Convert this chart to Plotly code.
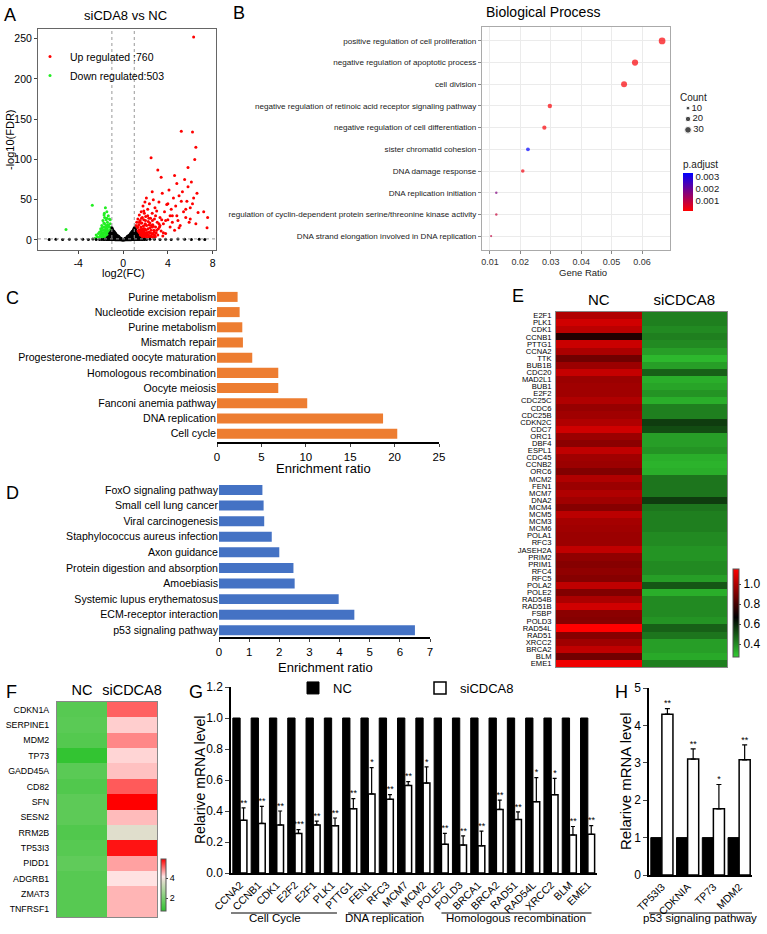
import plotly.graph_objects as go

W, H = 767, 934
FONT = "Liberation Sans, Arial, Helvetica, sans-serif"

# ---------------- data ----------------
# A: volcano plot
up_label = "Up regulated :760"
down_label = "Down regulated:503"
up_x = [1.02,1.05,1.08,1.1,1.12,1.15,1.18,1.2,1.22,1.25,1.28,1.3,1.32,1.35,1.38,1.4,1.42,1.45,1.48,1.5,
        1.52,1.55,1.58,1.6,1.62,1.65,1.68,1.7,1.72,1.75,1.78,1.8,1.82,1.85,1.88,1.9,1.92,1.95,1.98,2.0,
        2.02,2.05,2.08,2.1,2.15,2.2,2.25,2.3,2.35,2.4,2.45,2.5,2.55,2.6,2.65,2.7,2.75,2.8,2.85,2.9,
        2.95,3.0,3.05,3.1,3.15,3.2,3.3,3.4,3.5,3.6,3.7,3.8,3.9,4.0,4.1,4.2,4.3,4.4,4.5,4.6,
        4.7,4.8,4.9,5.0,5.1,5.2,5.3,5.4,5.5,5.6,5.7,5.8,5.9,6.0,6.1,6.2,6.3,6.4,6.5,6.6,
        1.1,1.2,1.3,1.4,1.5,1.6,1.7,1.8,1.9,2.0,2.1,2.2,2.3,2.4,2.5,2.6,2.7,2.8,3.0,3.2,
        1.15,1.25,1.35,1.45,1.55,1.65,1.75,1.85,1.95,2.05,2.3,2.6,2.9,3.3,3.6,4.0,4.4,4.8,5.2,5.6,
        6.0,6.3,6.5,6.7,2.6,3.4,4.2,5.0,5.8,6.2,7.2,7.5,7.55,3.8,4.6,
        1.03,1.07,1.13,1.17,1.23,1.27,1.33,1.37,1.43,1.47,1.53,1.57,1.63,1.67,1.73,1.77,1.83,1.87,1.93,1.97,
        2.12,2.18,2.22,2.28,2.32,2.38,2.42,2.48,2.52,2.58,2.62,2.68,2.72,2.78,2.82,2.88,3.1,3.25,3.45,3.55]
up_y = [4,9,2,14,6,18,3,11,22,7,15,5,26,10,3,19,8,31,12,6,
        24,9,16,4,35,13,21,7,28,11,42,17,5,25,9,33,14,47,20,8,
        29,12,52,18,6,38,23,10,45,15,27,102,8,33,19,50,12,26,40,16,
        9,36,22,87,14,47,28,11,58,20,35,8,44,25,62,16,38,30,52,12,
        42,70,24,55,18,135,60,35,75,28,48,66,22,40,72,134,252,100,115,58,
        8,3,16,12,2,21,5,14,3,24,9,30,4,21,12,7,17,5,12,20,
        12,6,4,22,13,27,10,36,19,5,27,16,30,18,9,45,22,30,48,38,
        26,52,20,34,60,78,30,15,90,45,35,15,28,24,80,
        6,11,3,9,5,16,7,2,10,4,7,3,10,2,4,6,3,11,6,13,
        3,9,14,6,19,3,9,5,18,4,24,8,3,10,6,4,6,16,25,5]
down_x = [-1.02,-1.05,-1.08,-1.1,-1.12,-1.15,-1.18,-1.2,-1.22,-1.25,-1.28,-1.3,-1.32,-1.35,-1.38,-1.4,-1.42,-1.45,-1.48,-1.5,
          -1.52,-1.55,-1.58,-1.6,-1.62,-1.65,-1.68,-1.7,-1.72,-1.75,-1.78,-1.8,-1.82,-1.85,-1.88,-1.9,-1.92,-1.95,-1.98,-2.0,
          -2.05,-2.1,-2.15,-2.2,-2.3,-2.4,-2.5,-2.75,-5.1,-1.1,-1.2,-1.3,-1.4,-1.5,-1.6,-1.7,-1.8,-1.9,-1.15,-1.25,
          -1.35,-1.45,-1.55,-1.65,-1.75,-1.85,-1.03,-1.07,-1.13,-1.17,-1.23,-1.27,-1.33,-1.37,-1.43,-1.47,-1.53,-1.57,-1.63,-1.67]
down_y = [5,10,3,15,7,20,4,12,26,8,17,3,30,11,6,22,14,35,9,18,
          25,7,40,13,4,28,16,9,21,3,12,24,6,15,9,18,4,11,7,14,
          5,10,3,8,4,6,2,43,13,2,6,9,4,13,2,31,5,2,25,16,
          19,27,10,20,8,3,8,2,12,5,3,10,6,17,2,8,15,5,10,33]
ns_x = [-1.0,-1.0,-1.0,-1.0,-1.0,-1.0,
        -0.95,-0.95,-0.95,-0.95,-0.95,
        -0.9,-0.9,-0.9,-0.9,-0.9,
        -0.85,-0.85,-0.85,-0.85,
        -0.8,-0.8,-0.8,-0.8,-0.8,
        -0.75,-0.75,-0.75,-0.75,
        -0.7,-0.7,-0.7,-0.7,-0.7,
        -0.65,-0.65,-0.65,-0.65,
        -0.6,-0.6,-0.6,-0.6,
        -0.55,-0.55,-0.55,
        -0.5,-0.5,-0.5,-0.5,
        -0.45,-0.45,-0.45,
        -0.4,-0.4,-0.4,-0.4,
        -0.35,-0.35,-0.35,
        -0.3,-0.3,-0.3,
        -0.25,-0.25,
        -0.2,-0.2,-0.2,
        -0.15,-0.15,
        -0.1,-0.1,-0.1,
        -0.05,-0.05,
        0.0,0.0,
        0.05,0.05,
        0.1,0.1,0.1,
        0.15,0.15,
        0.2,0.2,0.2,
        0.25,0.25,
        0.3,0.3,0.3,
        0.35,0.35,0.35,
        0.4,0.4,0.4,0.4,
        0.45,0.45,0.45,
        0.5,0.5,0.5,0.5,
        0.55,0.55,0.55,
        0.6,0.6,0.6,0.6,
        0.65,0.65,0.65,0.65,
        0.7,0.7,0.7,0.7,0.7,
        0.75,0.75,0.75,0.75,
        0.8,0.8,0.8,0.8,0.8,
        0.85,0.85,0.85,0.85,
        0.9,0.9,0.9,0.9,0.9,
        0.95,0.95,0.95,0.95,0.95,
        1.0,1.0,1.0,1.0,1.0,1.0,
        -1.1,-1.1,-1.1,-1.1,
        -1.2,-1.2,-1.2,-1.2,
        -1.3,-1.3,-1.3,
        -1.4,-1.4,-1.4,
        -1.5,-1.5,
        -1.7,-1.7,
        -1.9,-2.1,
        1.1,1.1,1.1,1.1,1.1,
        1.2,1.2,1.2,1.2,
        1.3,1.3,1.3,1.3,
        1.4,1.4,1.4,
        1.5,1.5,1.5,
        1.7,1.7,
        1.9,1.9,
        2.1,
        -6.6,-6.0,-5.4,-4.8,-4.2,-3.6,-3.1,-2.7,-2.4,
        2.4,2.8,3.3,3.8,4.3,4.9,5.5,6.1,6.8,7.3]
ns_y = [0.5,3,6,9,12,15,
        1.5,4.5,7.5,10.5,13.5,
        0.5,3,6,9,12,
        1.5,4.5,7.5,10.5,
        0.4,2.5,5,8,10.5,
        1.5,4,6.5,9,
        0.3,2,4.5,7,8.5,
        1,3,5.5,7.5,
        0.3,2,4,6.5,
        1,3,5,
        0.2,1.5,3.5,5.5,
        0.8,2.5,4,
        0.2,1.5,3,4.5,
        0.6,2,3.5,
        0.1,1,2.5,
        0.5,1.8,
        0.1,1,2,
        0.4,1.2,
        0,0.6,1.2,
        0.2,0.6,
        0,0.4,
        0.2,0.6,
        0,0.6,1.2,
        0.4,1.2,
        0.1,1,2,
        0.5,1.8,
        0.1,1,2.5,
        0.6,2,3.5,
        0.2,1.5,3,4.5,
        0.8,2.5,4,
        0.2,1.5,3.5,5.5,
        1,3,5,
        0.3,2,4,6.5,
        1,3,5.5,7.5,
        0.3,2,4.5,7,8.5,
        1.5,4,6.5,9,
        0.4,2.5,5,8,10.5,
        1.5,4.5,7.5,10.5,
        0.5,3,6,9,12,
        1.5,4.5,7.5,10.5,13.5,
        0.5,3,6,9,12,15,
        0.5,3,6,10,
        0.5,2.5,5,8,
        0.5,2,4,
        0.5,1.5,3,
        0.5,1.2,
        0.5,1,
        0.4,0.4,
        0.5,3,6,10,13,
        0.5,2.5,5,8,
        0.5,2,4,6,
        0.5,1.5,3,
        0.5,1.2,2.5,
        0.5,1,
        0.4,1,
        0.4,
        0.6,0.9,0.5,1.0,0.7,0.8,0.5,1.1,0.6,
        0.7,1.0,0.5,0.9,0.6,1.1,0.7,0.5,0.8,0.6]
fc_cut = 1.0
fdr_cut = 1.3

# B: GO biological process dot plot
bp_terms = ["positive regulation of cell proliferation",
            "negative regulation of apoptotic process",
            "cell division",
            "negative regulation of retinoic acid receptor signaling pathway",
            "negative regulation of cell differentiation",
            "sister chromatid cohesion",
            "DNA damage response",
            "DNA replication initiation",
            "regulation of cyclin-dependent protein serine/threonine kinase activity",
            "DNA strand elongation involved in DNA replication"]
bp_ratio = [0.0666, 0.0577, 0.0541, 0.0297, 0.0279, 0.0225, 0.0208, 0.0121, 0.0121, 0.0104]
bp_count = [30, 26, 24, 13, 12, 10, 9, 4, 4, 3]
bp_padj = [0.0002, 0.0002, 0.0002, 0.0002, 0.0002, 0.0033, 0.0003, 0.0017, 0.0008, 0.0009]
count_legend = [10, 20, 30]

# C: KEGG (up)
kegg_up_terms = ["Purine metabolism", "Nucleotide excision repair", "Purine metabolism",
                 "Mismatch repair", "Progesterone-mediated oocyte maturation",
                 "Homologous recombination", "Oocyte meiosis", "Fanconi anemia pathway",
                 "DNA replication", "Cell cycle"]
kegg_up_ratio = [2.32, 2.55, 2.85, 2.92, 3.97, 6.9, 6.9, 10.16, 18.7, 20.3]

# D: KEGG (down)
kegg_down_terms = ["FoxO signaling pathway", "Small cell lung cancer", "Viral carcinogenesis",
                   "Staphylococcus aureus infection", "Axon guidance",
                   "Protein digestion and absorption", "Amoebiasis",
                   "Systemic lupus erythematosus", "ECM-receptor interaction",
                   "p53 signaling pathway"]
kegg_down_ratio = [1.44, 1.48, 1.5, 1.75, 2.0, 2.47, 2.51, 3.97, 4.49, 6.5]

# E: heatmap
e_cols = ["NC", "siCDCA8"]
e_genes = ["E2F1","PLK1","CDK1","CCNB1","PTTG1","CCNA2","TTK","BUB1B","CDC20","MAD2L1",
           "BUB1","E2F2","CDC25C","CDC6","CDC25B","CDKN2C","CDC7","ORC1","DBF4","ESPL1",
           "CDC45","CCNB2","ORC6","MCM2","FEN1","MCM7","DNA2","MCM4","MCM5","MCM3",
           "MCM6","POLA1","RFC3","JASEH2A","PRIM2","PRIM1","RFC4","RFC5","POLA2","POLE2",
           "RAD54B","RAD51B","FSBP","POLD3","RAD54L","RAD51","XRCC2","BRCA2","BLM","EME1"]
e_nc = [1.0,1.06,1.02,0.73,1.05,0.99,0.88,0.96,1.04,0.96,
        0.97,0.97,1.0,0.95,0.97,1.0,1.06,0.96,0.93,1.03,
        0.97,0.96,0.91,1.0,0.96,1.0,0.97,0.92,1.02,0.98,
        0.97,0.96,0.96,1.03,0.94,0.92,0.94,0.92,1.03,0.91,
        0.99,1.06,0.93,0.92,1.15,0.92,0.97,1.03,0.88,1.12]
e_si = [0.42,0.42,0.40,0.42,0.40,0.36,0.31,0.36,0.48,0.33,
        0.35,0.38,0.33,0.42,0.42,0.55,0.52,0.36,0.36,0.38,
        0.33,0.32,0.33,0.44,0.44,0.44,0.55,0.44,0.42,0.42,
        0.42,0.40,0.40,0.38,0.38,0.40,0.40,0.36,0.50,0.33,
        0.40,0.40,0.40,0.38,0.48,0.44,0.36,0.36,0.34,0.42]

# F: p53 pathway heatmap
f_cols = ["NC", "siCDCA8"]
f_genes = ["CDKN1A","SERPINE1","MDM2","TP73","GADD45A","CD82","SFN","SESN2","RRM2B",
           "TP53I3","PIDD1","ADGRB1","ZMAT3","TNFRSF1"]
f_nc = [1.4, 1.45, 1.35, 0.8, 1.45, 1.3, 1.5, 1.5, 1.3, 1.4, 1.55, 1.4, 1.4, 1.4]
f_si = [5.15, 4.3, 4.85, 4.25, 4.4, 5.2, 5.9, 4.45, 3.7, 5.75, 4.65, 4.15, 4.5, 4.5]

# G: qPCR
g_genes = ["CCNA2","CCNB1","CDK1","E2F2","E2F1","PLK1","PTTG1","FEN1","RFC3","MCM7",
           "MCM2","POLE2","POLD3","BRCA1","BRCA2","RAD51","RAD54L","XRCC2","BLM","EME1"]
g_nc = [1.0,1.0,1.0,1.0,1.0,1.0,1.0,1.0,1.0,1.0,1.0,1.0,1.0,1.0,1.0,1.0,1.0,1.0,1.0,1.0]
g_si = [0.34,0.32,0.31,0.255,0.31,0.305,0.415,0.51,0.475,0.565,
        0.58,0.185,0.18,0.175,0.41,0.345,0.46,0.505,0.245,0.25]
g_err = [0.08,0.11,0.09,0.025,0.025,0.05,0.065,0.17,0.03,0.025,
         0.105,0.07,0.06,0.095,0.06,0.05,0.155,0.105,0.055,0.055]
g_sig = ["**","**","**","***","**","**","**","*","**","**",
         "*","**","**","**","**","**","*","*","**","**"]
g_groups = ["Cell Cycle", "DNA replication", "Homologous recombination"]

# H: qPCR p53 pathway
h_genes = ["TP53I3", "CDKNIA", "TP73", "MDM2"]
h_nc = [1.0, 1.0, 1.0, 1.0]
h_si = [4.3, 3.1, 1.77, 3.08]
h_err = [0.15, 0.27, 0.65, 0.4]
h_sig = ["**", "**", "*", "**"]
h_group = "p53 signaling pathway"

# ---------------- layout helpers (pixel -> paper) ----------------
def xd(l, r):
    return [l / W, r / W]

def yd(t, b):
    return [1 - b / H, 1 - t / H]

def px(x):
    return x / W

def py(y):
    return 1 - y / H

annotations = []
shapes = []

def note(text, x, y, size, angle=0, color="black", xanchor="center", yanchor="middle"):
    annotations.append(dict(text=text, x=px(x), y=py(y), xref="paper", yref="paper",
                            showarrow=False, textangle=angle, xanchor=xanchor, yanchor=yanchor,
                            font=dict(size=size, family=FONT, color=color)))

fig = go.Figure()

# ---------------- A ----------------
fig.add_trace(go.Scatter(x=up_x, y=up_y, mode="markers", name=up_label,
                         marker=dict(color="#FF0000", size=3), xaxis="x", yaxis="y", legend="legend"))
fig.add_trace(go.Scatter(x=down_x, y=down_y, mode="markers", name=down_label,
                         marker=dict(color="#22EE22", size=3), xaxis="x", yaxis="y", legend="legend"))
fig.add_trace(go.Scatter(x=ns_x, y=ns_y, mode="markers", showlegend=False,
                         marker=dict(color="black", size=3), xaxis="x", yaxis="y"))
for xv in (-fc_cut, fc_cut):
    shapes.append(dict(type="line", xref="x", yref="y domain", x0=xv, x1=xv, y0=0, y1=1,
                       line=dict(color="#999999", width=1, dash="dot")))
shapes.append(dict(type="line", xref="x domain", yref="y", x0=0, x1=1, y0=fdr_cut, y1=fdr_cut,
                   line=dict(color="#999999", width=1, dash="dot")))
note("siCDA8 vs NC", 125, 15, 13)
note("-log10(FDR)", 10, 140, 11, angle=-90)
note("log2(FC)", 123, 273, 11)

# ---------------- B ----------------
nb = len(bp_terms)
bp_pos = [nb - 1 - i for i in range(nb)]
SIZEREF = 1.34
fig.add_trace(go.Scatter(
    x=bp_ratio, y=bp_pos, mode="markers", showlegend=False, xaxis="x2", yaxis="y2",
    marker=dict(size=bp_count, sizemode="area", sizeref=SIZEREF, color=bp_padj,
                colorscale=[[0, "#FF0000"], [1, "#0000FF"]], cmin=0.00012, cmax=0.0033,
                line=dict(width=0),
                colorbar=dict(x=px(683), xanchor="left", y=py(211), yanchor="bottom",
                              len=54, lenmode="pixels", thickness=10, thicknessmode="pixels",
                              outlinewidth=0, tickvals=[0.001, 0.002, 0.003],
                              ticktext=["0.001", "0.002", "0.003"], ticks="", xpad=0, ypad=0,
                              tickfont=dict(size=9.5, family=FONT, color="#222"),
                              title=dict(text="p.adjust", side="top",
                                         font=dict(size=10, family=FONT, color="#222"))))))
# size legend
fig.add_trace(go.Scatter(
    x=[0.2, 0.2, 0.2], y=[0.82 - 0.32 * i for i in range(3)], mode="markers+text",
    text=[str(c) for c in count_legend], textposition="middle right",
    textfont=dict(size=9.5, family=FONT, color="#222"), showlegend=False, xaxis="x3", yaxis="y3",
    marker=dict(size=count_legend, sizemode="area", sizeref=SIZEREF, color="black")))
note("Count", 693, 97, 10, color="#222")
note("Biological Process", 543, 12, 14)
note("Gene Ratio", 583, 272, 9.5, color="#222")

# ---------------- C ----------------
nc_ = len(kegg_up_terms)
c_pos = [nc_ - 1 - i for i in range(nc_)]
fig.add_trace(go.Bar(x=kegg_up_ratio, y=c_pos, orientation="h", width=0.66,
                     marker=dict(color="#ED7D31", line=dict(width=0)), showlegend=False,
                     xaxis="x4", yaxis="y4"))
note("Enrichment ratio", 323, 468, 13)

# ---------------- D ----------------
nd = len(kegg_down_terms)
d_pos = [nd - 1 - i for i in range(nd)]
fig.add_trace(go.Bar(x=kegg_down_ratio, y=d_pos, orientation="h", width=0.64,
                     marker=dict(color="#4472C4", line=dict(width=0)), showlegend=False,
                     xaxis="x5", yaxis="y5"))
note("Enrichment ratio", 325, 667, 13)

# ---------------- E ----------------
fig.add_trace(go.Heatmap(
    z=[[a, b] for a, b in zip(e_nc, e_si)], x=e_cols, y=e_genes, xaxis="x6", yaxis="y6",
    zmin=0.27, zmax=1.15,
    colorscale=[[0, "rgb(50,205,50)"], [0.45, "rgb(0,0,0)"], [1, "rgb(255,0,0)"]],
    colorbar=dict(x=px(733), xanchor="left", y=py(657), yanchor="bottom", len=88,
                  lenmode="pixels", thickness=6, thicknessmode="pixels", outlinewidth=1,
                  outlinecolor="#555", tickvals=[0.4, 0.6, 0.8, 1.0],
                  ticktext=["0.4", "0.6", "0.8", "1.0"], ticks="outside", ticklen=2,
                  xpad=0, ypad=0, tickfont=dict(size=12, family=FONT))))

# ---------------- F ----------------
fig.add_trace(go.Heatmap(
    z=[[a, b] for a, b in zip(f_nc, f_si)], x=f_cols, y=f_genes, xaxis="x7", yaxis="y7",
    zmin=0.7, zmax=5.9,
    colorscale=[[0, "rgb(45,195,45)"], [0.58, "rgb(225,222,205)"], [0.66, "rgb(255,228,228)"],
                [1, "rgb(255,0,0)"]],
    colorbar=dict(x=px(161), xanchor="left", y=py(911), yanchor="bottom", len=52,
                  lenmode="pixels", thickness=5, thicknessmode="pixels", outlinewidth=1,
                  outlinecolor="#555", tickvals=[2, 4], ticktext=["2", "4"], ticks="outside",
                  ticklen=2, xpad=0, ypad=0, tickfont=dict(size=9, family=FONT))))

# ---------------- G ----------------
g_idx = list(range(len(g_genes)))
fig.add_trace(go.Bar(x=g_idx, y=g_nc, name="NC", offset=-0.4, width=0.4,
                     marker=dict(color="black", line=dict(color="black", width=1)),
                     xaxis="x8", yaxis="y8", legend="legend2"))
fig.add_trace(go.Bar(x=g_idx, y=g_si, name="siCDCA8", offset=0.0, width=0.37,
                     marker=dict(color="white", line=dict(color="black", width=1.5)),
                     error_y=dict(type="data", symmetric=False, array=g_err,
                                  arrayminus=[0 for _ in g_err], color="black",
                                  thickness=1.2, width=2),
                     xaxis="x8", yaxis="y8", legend="legend3"))
fig.add_trace(go.Scatter(x=[i + 0.2 for i in g_idx], y=[s + e for s, e in zip(g_si, g_err)],
                         mode="text", text=g_sig, textposition="top center",
                         textfont=dict(size=9, family=FONT, color="black"),
                         showlegend=False, xaxis="x8", yaxis="y8"))
g_spans = [(-1.48, 5.29), (5.9, 9.9), (11.0, 19.2)]
for name, (a, b) in zip(g_groups, g_spans):
    shapes.append(dict(type="line", xref="x8", yref="paper", x0=a, x1=b, y0=py(913), y1=py(913),
                       line=dict(color="black", width=1)))
    annotations.append(dict(text=name, x=(a + b) / 2, y=py(926), xref="x8", yref="paper",
                            showarrow=False, font=dict(size=11.5, family=FONT, color="black")))
note("Relarive mRNA level", 200, 780, 14, angle=-90)

# ---------------- H ----------------
h_idx = list(range(len(h_genes)))
fig.add_trace(go.Bar(x=h_idx, y=h_nc, offset=-0.43, width=0.43, showlegend=False,
                     marker=dict(color="black", line=dict(color="black", width=1)),
                     xaxis="x9", yaxis="y9"))
fig.add_trace(go.Bar(x=h_idx, y=h_si, offset=0.0, width=0.43, showlegend=False,
                     marker=dict(color="white", line=dict(color="black", width=1.5)),
                     error_y=dict(type="data", symmetric=False, array=h_err,
                                  arrayminus=[0 for _ in h_err], color="black",
                                  thickness=1.2, width=2.5),
                     xaxis="x9", yaxis="y9"))
fig.add_trace(go.Scatter(x=[i + 0.215 for i in h_idx], y=[s + e for s, e in zip(h_si, h_err)],
                         mode="text", text=h_sig, textposition="top center",
                         textfont=dict(size=9, family=FONT, color="black"),
                         showlegend=False, xaxis="x9", yaxis="y9"))
shapes.append(dict(type="line", xref="x9", yref="paper", x0=-0.74, x1=3.69, y0=py(913), y1=py(913),
                   line=dict(color="black", width=1)))
annotations.append(dict(text=h_group, x=(-0.74 + 3.69) / 2, y=py(926), xref="x9", yref="paper",
                        showarrow=False, font=dict(size=11.5, family=FONT, color="black")))
note("Relarive mRNA level", 625, 781, 15, angle=-90)

# panel letters
for lab, x, y in [("A", 10, 15), ("B", 239, 13), ("C", 12, 298), ("D", 12, 493),
                  ("E", 518, 296), ("F", 11, 692), ("G", 196, 692), ("H", 621, 692)]:
    note(lab, x, y, 18)

# ---------------- axes ----------------
tf = lambda s, c="black": dict(size=s, family=FONT, color=c)
layout_axes = dict(
    # A
    xaxis=dict(domain=xd(38, 216), range=[-7.6, 8.3], tickvals=[-4, 0, 4, 8],
               ticktext=["-4", "0", "4", "8"], ticks="outside",
               ticklen=3, showline=True, mirror=True, linecolor="#666", linewidth=1,
               showgrid=False, zeroline=False, tickfont=tf(10.5), anchor="y"),
    yaxis=dict(domain=yd(29, 250), range=[-12.5, 262], tickvals=[0, 50, 100, 150, 200, 250],
               ticks="outside", ticklen=3, showline=True, mirror=True, linecolor="#666",
               linewidth=1, showgrid=False, zeroline=False, tickfont=tf(10.5), anchor="x"),
    # B
    xaxis2=dict(domain=xd(482, 670), range=[0.0074, 0.0692],
                tickvals=[0.01, 0.02, 0.03, 0.04, 0.05, 0.06],
                ticktext=["0.01", "0.02", "0.03", "0.04", "0.05", "0.06"],
                ticks="outside", ticklen=3, tickcolor="#888", showline=True, mirror=True,
                linecolor="#AAAAAA", gridcolor="#EBEBEB", zeroline=False,
                tickfont=tf(9, "#333"), anchor="y2"),
    yaxis2=dict(domain=yd(27, 250), range=[-0.64, 9.64], tickvals=bp_pos, ticktext=bp_terms,
                ticks="outside", ticklen=3, tickcolor="#888", showline=True, mirror=True,
                linecolor="#AAAAAA", gridcolor="#EBEBEB", zeroline=False,
                tickfont=tf(8.1, "#222"), anchor="x2"),
    xaxis3=dict(domain=xd(680, 720), range=[0, 1], visible=False, fixedrange=True, anchor="y3"),
    yaxis3=dict(domain=yd(102, 136), range=[0, 1], visible=False, fixedrange=True, anchor="x3"),
    # C
    xaxis4=dict(domain=xd(217, 439), range=[0, 25], tickvals=[0, 5, 10, 15, 20, 25],
                ticks="outside", ticklen=3, showline=True, linecolor="black", linewidth=1.5,
                showgrid=False, zeroline=False, tickfont=tf(11.5), anchor="y4"),
    yaxis4=dict(domain=yd(289, 442), range=[-0.55, 9.52], tickvals=c_pos, ticktext=kegg_up_terms,
                ticks="", showline=False, showgrid=False, zeroline=False, tickfont=tf(10.6),
                anchor="x4"),
    # D
    xaxis5=dict(domain=xd(219, 430), range=[0, 7], tickvals=[0, 1, 2, 3, 4, 5, 6, 7],
                ticks="outside", ticklen=3, showline=True, linecolor="black", linewidth=1.5,
                showgrid=False, zeroline=False, tickfont=tf(11.5), anchor="y5"),
    yaxis5=dict(domain=yd(483, 637), range=[-0.43, 9.45], tickvals=d_pos, ticktext=kegg_down_terms,
                ticks="", showline=False, showgrid=False, zeroline=False, tickfont=tf(10.6),
                anchor="x5"),
    # E
    xaxis6=dict(domain=xd(556, 727), side="top", ticks="", showline=True, mirror=True,
                linecolor="#888", tickfont=tf(15), anchor="y6", showgrid=False),
    yaxis6=dict(domain=yd(312, 667), autorange="reversed", ticks="", showline=True, mirror=True,
                linecolor="#888", tickfont=tf(7.6), anchor="x6", showgrid=False, dtick=1,
                ticklabelstandoff=2),
    # F
    xaxis7=dict(domain=xd(57, 157), side="top", ticks="", showline=True, mirror=True,
                linecolor="#888", tickfont=tf(14.5), anchor="y7", showgrid=False),
    yaxis7=dict(domain=yd(702, 917), autorange="reversed", ticks="", showline=True, mirror=True,
                linecolor="#888", tickfont=tf(8.8), anchor="x7", showgrid=False,
                ticklabelstandoff=5),
    # G
    xaxis8=dict(domain=xd(231, 597), range=[-0.5, 19.5], tickvals=g_idx, ticktext=g_genes,
                tickangle=-45, ticks="", showline=True, linecolor="black", linewidth=1.5,
                showgrid=False, zeroline=False, tickfont=tf(10.5), anchor="y8"),
    yaxis8=dict(domain=yd(687, 873), range=[0, 1.2], tickvals=[0, 0.2, 0.4, 0.6, 0.8, 1.0, 1.2],
                tickformat=".1f", ticks="outside", ticklen=4, showline=True, linecolor="black",
                linewidth=1.5, showgrid=False, zeroline=False, tickfont=tf(12), anchor="x8"),
    # H
    xaxis9=dict(domain=xd(649, 752), range=[-0.5, 3.5], tickvals=h_idx, ticktext=h_genes,
                tickangle=-45, ticks="", showline=True, linecolor="black", linewidth=1.5,
                showgrid=False, zeroline=False, tickfont=tf(10.5), anchor="y9"),
    yaxis9=dict(domain=yd(688, 875), range=[0, 5], tickvals=[0, 1, 2, 3, 4, 5],
                ticks="outside", ticklen=4, showline=True, linecolor="black", linewidth=1.5,
                showgrid=False, zeroline=False, tickfont=tf(12), anchor="x9"),
)

fig.update_layout(
    width=W, height=H, autosize=False,
    margin=dict(l=0, r=0, t=0, b=0, pad=0, autoexpand=False),
    paper_bgcolor="white", plot_bgcolor="white",
    font=dict(family=FONT, color="black"),
    barmode="overlay", hovermode=False,
    annotations=annotations, shapes=shapes,
    legend=dict(x=px(30), y=py(42), xanchor="left", yanchor="top", bgcolor="rgba(0,0,0,0)",
                font=tf(10.5), itemsizing="trace", tracegroupgap=0),
    legend2=dict(x=px(293), y=py(688), xanchor="left", yanchor="middle",
                 bgcolor="rgba(0,0,0,0)", font=tf(13)),
    legend3=dict(x=px(420), y=py(688), xanchor="left", yanchor="middle",
                 bgcolor="rgba(0,0,0,0)", font=tf(13)),
    **layout_axes,
)

# the page's default 8px body margin would push the figure off its intended position
fig.write_html("out.html", config={"displayModeBar": False},
               post_script="document.body.style.margin='0px';")
